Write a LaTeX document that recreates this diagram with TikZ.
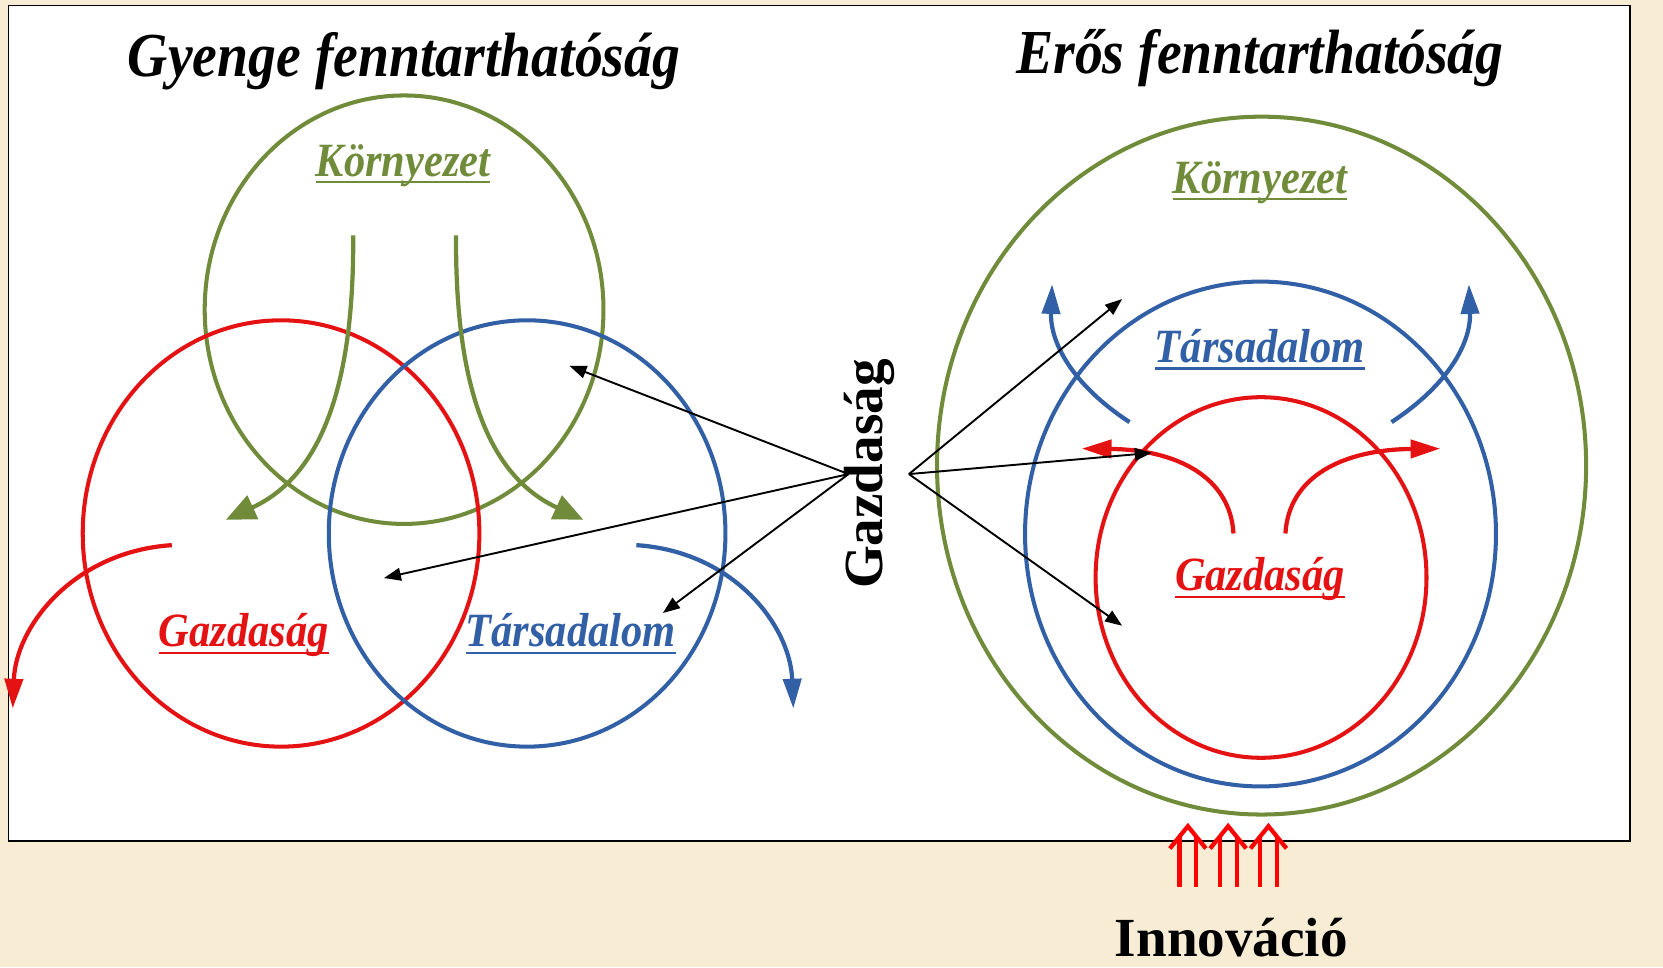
\documentclass[tikz,border=0pt]{standalone}
\usepackage{fontspec}
\setmainfont{Liberation Serif}
\newfontfamily\condserif{Liberation Serif}[FakeStretch=0.89]
\usetikzlibrary{
	arrows.meta
}
\definecolor{parchment}{RGB}{248,237,212}
\definecolor{envgreen}{RGB}{112,140,58}
\definecolor{socblue}{RGB}{50,96,166}
\definecolor{ecored}{RGB}{228,18,18}
\newcommand{\ulined}[1]{\setbox0=\hbox{#1}\rlap{\copy0}\rule[-7pt]{\wd0}{2.5pt}}
\tikzset{
	title/.style={font=\condserif\bfseries\itshape\fontsize{59}{64}\selectfont, inner sep=0pt, anchor=base},
	ringlabel/.style={font=\condserif\bfseries\itshape\fontsize{45}{50}\selectfont, inner sep=0pt, anchor=base},
	plainlabel/.style={font=\bfseries\fontsize{52}{58}\selectfont, inner sep=0pt},
	ring/.style={line width=3.8pt},
	flow/.style={line width=4pt, -{Triangle[width=24pt,length=28pt]}},
	slimflow/.style={line width=4pt, -{Triangle[width=17pt,length=28pt]}},
	pointer/.style={line width=1.8pt, -{Triangle[width=12pt,length=16pt]}},
	innov/.style={line width=4pt, draw=red, miter limit=10}
}

\begin{document}
\begin{tikzpicture}[x=1pt, y=-1pt]
	\fill[parchment] (0,0) rectangle (1568,912);
	\useasboundingbox (0,0) rectangle (1568,912);
	\draw[fill=white, line width=1.5pt] (8,5) rectangle (1537,793);

	\node[title] (weak) at (381,72) {Gyenge fenntarthatóság};
	\node[title] (strong) at (1188,69) {Erős fenntarthatóság};

	% gyenge
	\draw[ring, envgreen] (381,292) ellipse [x radius=188, y radius=202];
	\draw[ring, ecored] (265,503) ellipse [x radius=187, y radius=201];
	\draw[ring, socblue] (497,503) ellipse [x radius=187, y radius=201];

	\node[ringlabel, text=envgreen] (kl) at (380,166) {\ulined{Környezet}};
	\node[ringlabel, text=ecored] (gl) at (230,610) {\ulined{Gazdaság}};
	\node[ringlabel, text=socblue] (tl) at (538,610) {\ulined{Társadalom}};

	\draw[flow, envgreen] (333,222) .. controls (334,370) and (300,450) .. (213,490);
	\draw[flow, envgreen] (430,222) .. controls (429,370) and (463,450) .. (550,490);
	\draw[slimflow, ecored] (162,514) .. controls (70,520) and (15,590) .. (12,668);
	\draw[slimflow, socblue] (600,514) .. controls (692,520) and (745,590) .. (748,668);

	% eros
	\draw[ring, envgreen] (1189.5,439) ellipse [x radius=306, y radius=329];
	\draw[ring, socblue] (1188.5,503.5) ellipse [x radius=222, y radius=238];
	\draw[ring, ecored] (1189,544.5) ellipse [x radius=156, y radius=170];

	\node[ringlabel, text=envgreen] (kr) at (1188,182) {\ulined{Környezet}};
	\node[ringlabel, text=socblue] (tr) at (1188,342) {\ulined{Társadalom}};
	\node[ringlabel, text=ecored] (gr) at (1188,557) {\ulined{Gazdaság}};

	\draw[slimflow, socblue] (1065,398) .. controls (1010,362) and (990,322) .. (992,268);
	\draw[slimflow, socblue] (1312,398) .. controls (1367,362) and (1387,322) .. (1385,268);
	\draw[slimflow, ecored] (1163,503) .. controls (1160,450) and (1110,424) .. (1020,423);
	\draw[slimflow, ecored] (1212,503) .. controls (1215,450) and (1265,424) .. (1358,423);

	% Gazdasag mutatok
	\node[plainlabel, rotate=90] (gazd) at (820,447) {Gazdaság};
	\coordinate (fanL) at (800,447);
	\coordinate (fanR) at (857,447);
	\coordinate (l1) at (537,345);
	\coordinate (l2) at (362,545);
	\coordinate (l3) at (625,578);
	\coordinate (r1) at (1058,282);
	\coordinate (r2) at (1086,427);
	\coordinate (r3) at (1058,590);
	\foreach \t in {l1,l2,l3}
		\draw[pointer] (fanL) -- (\t);
	\foreach \t in {r1,r2,r3}
		\draw[pointer] (fanR) -- (\t);

	% innovacio
	\foreach \x in {1120,1158,1196} {
		\draw[innov] (\x-8,836) -- (\x-8,789);
		\draw[innov] (\x+8,836) -- (\x+8,789);
		\draw[innov] (\x-17,800) -- (\x,779) -- (\x+17,800);
	}
	\node[plainlabel, anchor=base] (innovation) at (1161,902) {Innováció};
\end{tikzpicture}
\end{document}
